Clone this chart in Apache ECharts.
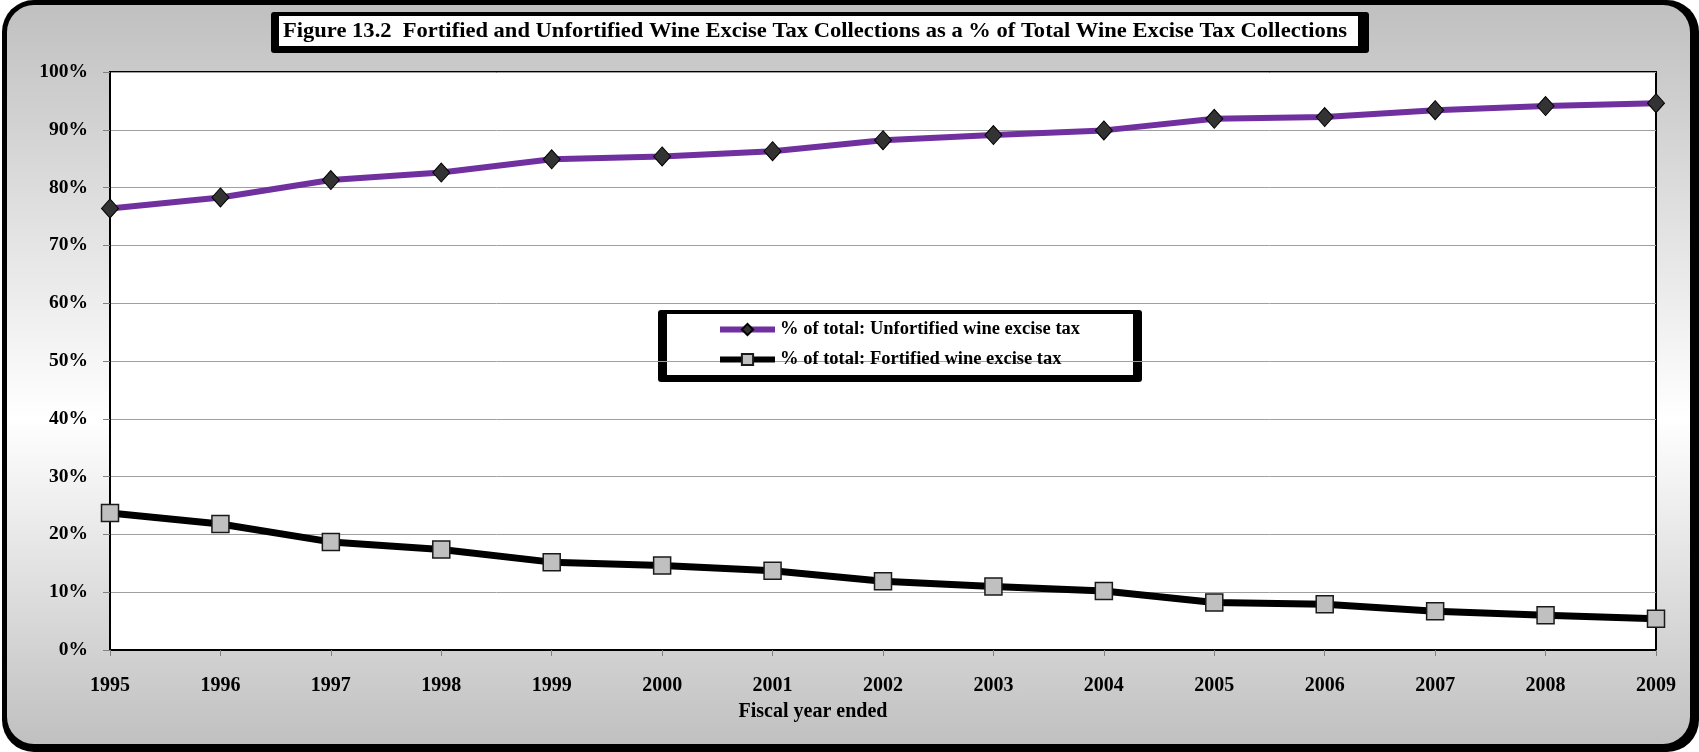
<!DOCTYPE html>
<html>
<head>
<meta charset="utf-8">
<script src="https://cdn.jsdelivr.net/npm/echarts@6/dist/echarts.min.js"></script>
<style>
  html, body { margin: 0; padding: 0; background: #fff; }
  #wrap { position: relative; width: 1699px; height: 752px; overflow: hidden; }
  #frameOuter { position: absolute; left: 2px; top: 0; width: 1697px; height: 752px; border-radius: 32px; background: #000; }
  #frameInner { position: absolute; left: 7px; top: 5px; width: 1683px; height: 739px; border-radius: 27px;
    background: linear-gradient(to bottom, #c0c0c0 0%, #ffffff 56%, #c0c0c0 100%); }
  #chart { position: absolute; left: 0; top: 0; width: 1699px; height: 752px; }
</style>
</head>
<body>
<div id="wrap">
  <div id="frameOuter"></div>
  <div id="frameInner"></div>
  <div id="chart"></div>
</div>
<script>
// Fiscal years on the category axis
const years = ['1995', '1996', '1997', '1998', '1999', '2000', '2001', '2002',
               '2003', '2004', '2005', '2006', '2007', '2008', '2009'];

// Share of total wine excise tax collections, in percent
const unfortifiedShare = [76.4, 78.3, 81.3, 82.6, 84.9, 85.4, 86.3, 88.2, 89.1, 89.9, 91.9, 92.2, 93.4, 94.1, 94.6];
const fortifiedShare   = [23.7, 21.8, 18.7, 17.4, 15.2, 14.6, 13.7, 11.9, 11.0, 10.2, 8.2, 7.9, 6.7, 6.0, 5.4];

const seriesNames = ['% of total: Unfortified wine excise tax', '% of total: Fortified wine excise tax'];
const titleText = 'Figure 13.2  Fortified and Unfortified Wine Excise Tax Collections as a % of Total Wine Excise Tax Collections';
const xAxisTitle = 'Fiscal year ended';

const FONT = '"Liberation Serif", "Times New Roman", serif';

// The heading is set in a narrow serif: squeeze it to its box width
const measureCtx = document.createElement('canvas').getContext('2d');
measureCtx.font = 'bold 22px ' + FONT;
const titleScale = 1064 / measureCtx.measureText(titleText).width;

const chart = echarts.init(document.getElementById('chart'), null, { renderer: 'canvas' });

chart.setOption({
  animation: false,
  backgroundColor: 'transparent',
  grid: {
    left: 110, right: 43, top: 72, bottom: 102,
    show: true, backgroundColor: '#fff', borderColor: '#000', borderWidth: 2
  },
  xAxis: {
    type: 'category',
    data: years,
    boundaryGap: false,
    axisLine: { lineStyle: { color: '#000', width: 2 } },
    axisTick: { show: true, length: 6, lineStyle: { color: '#808080' } },
    axisLabel: { margin: 26, color: '#000', fontFamily: FONT, fontWeight: 'bold', fontSize: 20 },
    splitLine: { show: false }
  },
  yAxis: {
    type: 'value',
    min: 0, max: 100, interval: 10,
    axisLine: { show: true, lineStyle: { color: '#000', width: 2 } },
    axisTick: { show: true, length: 7, lineStyle: { color: '#808080' } },
    axisLabel: { margin: 22, formatter: '{value}%', color: '#000', fontFamily: FONT, fontWeight: 'bold', fontSize: 19.5 },
    splitLine: { show: true, lineStyle: { color: '#a0a0a0', width: 1 } }
  },
  legend: {
    orient: 'vertical',
    left: 717, top: 320,
    padding: 0,
    itemGap: 11,
    itemWidth: 55, itemHeight: 14,
    selectedMode: false,
    textStyle: { color: '#000', fontFamily: FONT, fontWeight: 'bold', fontSize: 18.5 },
    data: [
      { name: seriesNames[0], lineStyle: { width: 6 } },
      { name: seriesNames[1], lineStyle: { width: 6 } }
    ]
  },
  graphic: {
    z: 3,
    elements: [
      // heading box
      { type: 'rect', shape: { x: 271, y: 12, width: 1098, height: 41, r: 3 }, style: { fill: '#000' } },
      { type: 'rect', shape: { x: 279, y: 16, width: 1079, height: 30 }, style: { fill: '#fff' } },
      { type: 'text', x: 283, y: 31.5, scaleX: titleScale,
        style: { text: titleText, font: 'bold 22px ' + FONT, fill: '#000',
                 textAlign: 'left', textVerticalAlign: 'middle', align: 'left', verticalAlign: 'middle' } },
      // legend box
      { type: 'rect', shape: { x: 658, y: 310, width: 484, height: 72, r: 3 }, style: { fill: '#000' } },
      { type: 'rect', shape: { x: 667, y: 314, width: 466, height: 61 }, style: { fill: '#fff' } },
      // category axis title
      { type: 'text', x: 813, y: 712,
        style: { text: xAxisTitle, font: 'bold 20px ' + FONT, fill: '#000',
                 textAlign: 'center', textVerticalAlign: 'middle', align: 'center', verticalAlign: 'middle' } }
    ]
  },
  series: [
    {
      name: seriesNames[0],
      type: 'line',
      data: unfortifiedShare,
      symbol: 'diamond',
      symbolSize: [17, 19],
      lineStyle: { color: '#7030a0', width: 6 },
      itemStyle: { color: '#333333', borderColor: '#000', borderWidth: 1 },
      z: 2
    },
    {
      name: seriesNames[1],
      type: 'line',
      data: fortifiedShare,
      symbol: 'rect',
      symbolSize: 17,
      lineStyle: { color: '#000', width: 7 },
      itemStyle: { color: '#c0c0c0', borderColor: '#1a1a1a', borderWidth: 1.5 },
      z: 2
    }
  ]
});
</script>
</body>
</html>
